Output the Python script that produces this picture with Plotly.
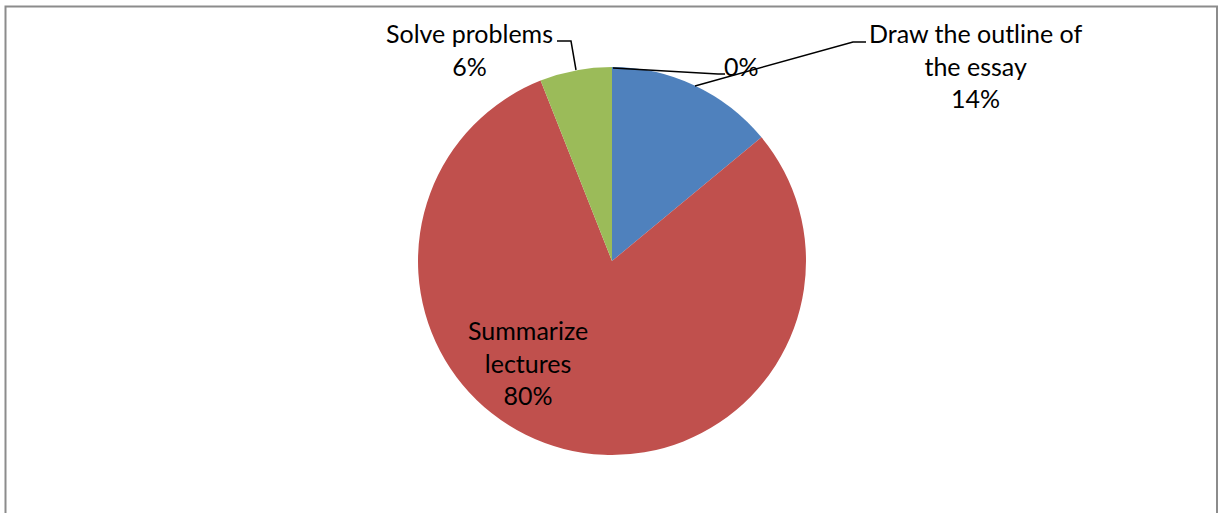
import plotly.graph_objects as go

# ---- data ----
categories = ["", "Draw the outline of the essay", "Summarize lectures", "Solve problems"]
values = [0, 14, 80, 6]
colors = ["#F79646", "#4F81BD", "#C0504D", "#9BBB59"]

W, H = 1219, 513
FONT = "Lato"


def px(x):
    return x / W


def py(y):
    return 1 - y / H


fig = go.Figure()
fig.add_trace(go.Pie(
    labels=categories,
    values=values,
    sort=False,
    direction="clockwise",
    rotation=0,
    marker=dict(colors=colors, line=dict(width=0)),
    textinfo="none",
    hoverinfo="label+percent",
    showlegend=False,
    domain=dict(x=[px(418), px(806)], y=[py(455), py(67)]),
))

annotations = [
    dict(text="Solve problems<br>6%", x=px(469), y=py(49)),
    dict(text="0%", x=px(741), y=py(66)),
    dict(text="Draw the outline of<br>the essay<br>14%", x=px(975), y=py(65)),
    dict(text="Summarize<br>lectures<br>80%", x=px(528), y=py(362)),
]
for a in annotations:
    fig.add_annotation(
        text=a["text"], x=a["x"], y=a["y"], xref="paper", yref="paper",
        showarrow=False, xanchor="center", yanchor="middle", align="center",
        font=dict(family=FONT, size=25, color="#000000"),
    )

leaders = [
    [(557, 41), (571, 41), (576, 70)],
    [(613, 68), (718, 74), (725, 74)],
    [(695, 86), (853, 42), (866, 42)],
]
shapes = []
for pts in leaders:
    path = "M " + " L ".join(f"{px(x)},{py(y)}" for x, y in pts)
    shapes.append(dict(type="path", path=path, xref="paper", yref="paper",
                       line=dict(color="#000000", width=1.5)))

shapes.append(dict(type="rect", xref="paper", yref="paper",
                   x0=px(5.5), x1=px(1217), y0=-0.05, y1=py(6.5),
                   line=dict(color="#8c8c8c", width=2), fillcolor="rgba(0,0,0,0)"))

fig.update_layout(
    width=W, height=H,
    margin=dict(l=0, r=0, t=0, b=0),
    paper_bgcolor="#ffffff",
    plot_bgcolor="#ffffff",
    shapes=shapes,
)

fig.write_html("out.html", config={"displayModeBar": False},
               post_script="document.body.style.margin='0';")
